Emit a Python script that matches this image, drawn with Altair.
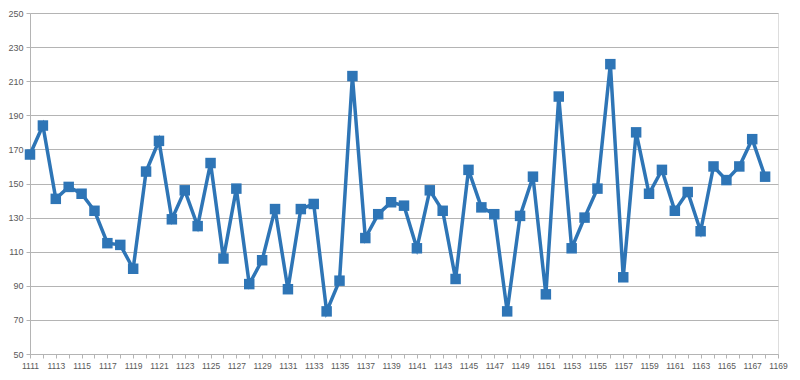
import altair as alt
import pandas as pd

years = list(range(1111, 1169))
values = [167, 184, 141, 148, 144, 134, 115, 114, 100, 157,
          175, 129, 146, 125, 162, 106, 147, 91, 105, 135,
          88, 135, 138, 75, 93, 213, 118, 132, 139, 137,
          112, 146, 134, 94, 158, 136, 132, 75, 131, 154,
          85, 201, 112, 130, 147, 220, 95, 180, 144, 158,
          134, 145, 122, 160, 152, 160, 176, 154]
x_ticks = list(range(1111, 1170))
y_ticks = list(range(50, 251, 20))

df = pd.DataFrame({"year": years, "value": values})

blue = "#2e75b6"
grid = "#b4b4b4"
label_col = "#595959"

chart = alt.Chart(df).mark_line(
    color=blue, strokeWidth=3.5,
    point=alt.OverlayMarkDef(shape="square", size=110, filled=True, color=blue, opacity=1)
).encode(
    x=alt.X("year:Q",
            scale=alt.Scale(domain=[1111, 1169], nice=False, zero=False),
            axis=alt.Axis(values=x_ticks, format="d", title=None, grid=False,
                          labelExpr="datum.value % 2 == 1 ? datum.label : ''",
                          labelOverlap=False, labelFlush=False,
                          tickSize=4, tickColor=grid, domainColor=grid,
                          labelFont="Liberation Sans", labelFontSize=8.5,
                          labelColor=label_col, labelPadding=3)),
    y=alt.Y("value:Q",
            scale=alt.Scale(domain=[50, 250], nice=False, zero=False),
            axis=alt.Axis(values=y_ticks, title=None, grid=True, gridColor=grid,
                          tickSize=4, tickColor=grid, domainColor=grid,
                          labelFont="Liberation Sans", labelFontSize=9,
                          labelColor=label_col, labelPadding=3))
).properties(
    width=748, height=341,
    padding={"left": 22, "top": 5, "right": 14, "bottom": 18},
    autosize="none"
).configure_view(stroke=None).configure(background="white")

chart.save("out.html", embed_options={"renderer": "svg", "actions": False})
